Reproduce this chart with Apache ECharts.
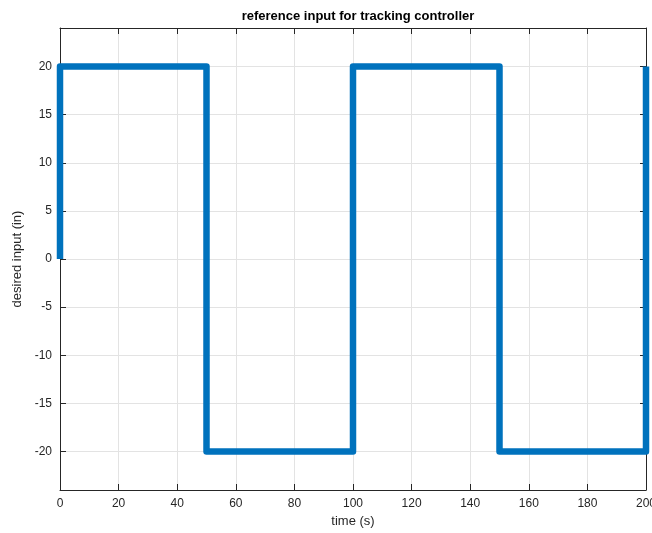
<!DOCTYPE html>
<html><head><meta charset="utf-8">
<script src="https://cdn.jsdelivr.net/npm/echarts@6/dist/echarts.min.js"></script>
<style>html,body{margin:0;padding:0;background:#fff}#c{width:652px;height:533px}</style>
</head><body><div id="c"></div>
<script>
const times = [0, 0, 50, 50, 100, 100, 150, 150, 200, 200];
const values = [0, 20, 20, -20, -20, 20, 20, -20, -20, 20];
const xTicks = [0, 20, 40, 60, 80, 100, 120, 140, 160, 180, 200];
const yTicks = [-20, -15, -10, -5, 0, 5, 10, 15, 20];

const font = 'Liberation Sans, Arial, Helvetica, sans-serif';
const axisColor = '#262626';
const chart = echarts.init(document.getElementById('c'), null, {renderer: 'canvas'});
const xCommon = {type: 'value', min: 0, max: 200, interval: 20};
const yCommon = {type: 'value', min: -24, max: 24, interval: 5};
chart.setOption({
  animation: false,
  title: {text: 'reference input for tracking controller', left: 353, top: 5, textAlign: 'center',
    textStyle: {fontFamily: font, fontSize: 13, fontWeight: 'bold', color: '#000'}},
  grid: {left: 60, right: 6, top: 28, bottom: 43, containLabel: false, outerBoundsMode: 'none'},
  xAxis: [
    Object.assign({}, xCommon, {position: 'bottom', name: 'time (s)', nameLocation: 'middle', nameGap: 25,
      nameTextStyle: {fontFamily: font, fontSize: 13, color: axisColor},
      axisLine: {show: true, onZero: false, lineStyle: {color: axisColor, width: 1}},
      axisTick: {show: true, inside: true, length: 6, lineStyle: {color: axisColor}},
      axisLabel: {fontFamily: font, fontSize: 12, color: axisColor, margin: 8, hideOverlap: false,
        formatter: v => xTicks.includes(v) ? String(v) : ''},
      splitLine: {show: true, lineStyle: {color: '#e3e3e3', width: 1}}}),
    Object.assign({}, xCommon, {position: 'top',
      axisLine: {show: true, onZero: false, lineStyle: {color: axisColor, width: 1}},
      axisTick: {show: true, inside: true, length: 6, lineStyle: {color: axisColor}},
      axisLabel: {show: false}, splitLine: {show: false}})
  ],
  yAxis: [
    Object.assign({}, yCommon, {position: 'left', name: 'desired input (in)', nameLocation: 'middle', nameGap: 34,
      nameTextStyle: {fontFamily: font, fontSize: 13, color: axisColor},
      axisLine: {show: true, onZero: false, lineStyle: {color: axisColor, width: 1}},
      axisTick: {show: true, inside: true, length: 6, lineStyle: {color: axisColor},
        customValues: yTicks},
      axisLabel: {fontFamily: font, fontSize: 12, color: axisColor, margin: 8, customValues: yTicks},
      splitLine: {show: true, lineStyle: {color: '#e3e3e3', width: 1}}}),
    Object.assign({}, yCommon, {position: 'right',
      axisLine: {show: true, onZero: false, lineStyle: {color: axisColor, width: 1}},
      axisTick: {show: true, inside: true, length: 6, lineStyle: {color: axisColor}, customValues: yTicks},
      axisLabel: {show: false}, splitLine: {show: false}})
  ],
  series: [{
    type: 'line', xAxisIndex: 0, yAxisIndex: 0,
    data: times.map((t, i) => [t, values[i]]),
    showSymbol: false, clip: true,
    lineStyle: {color: '#0072BD', width: 6.5, join: 'round', cap: 'butt'}
  }]
});
</script></body></html>
